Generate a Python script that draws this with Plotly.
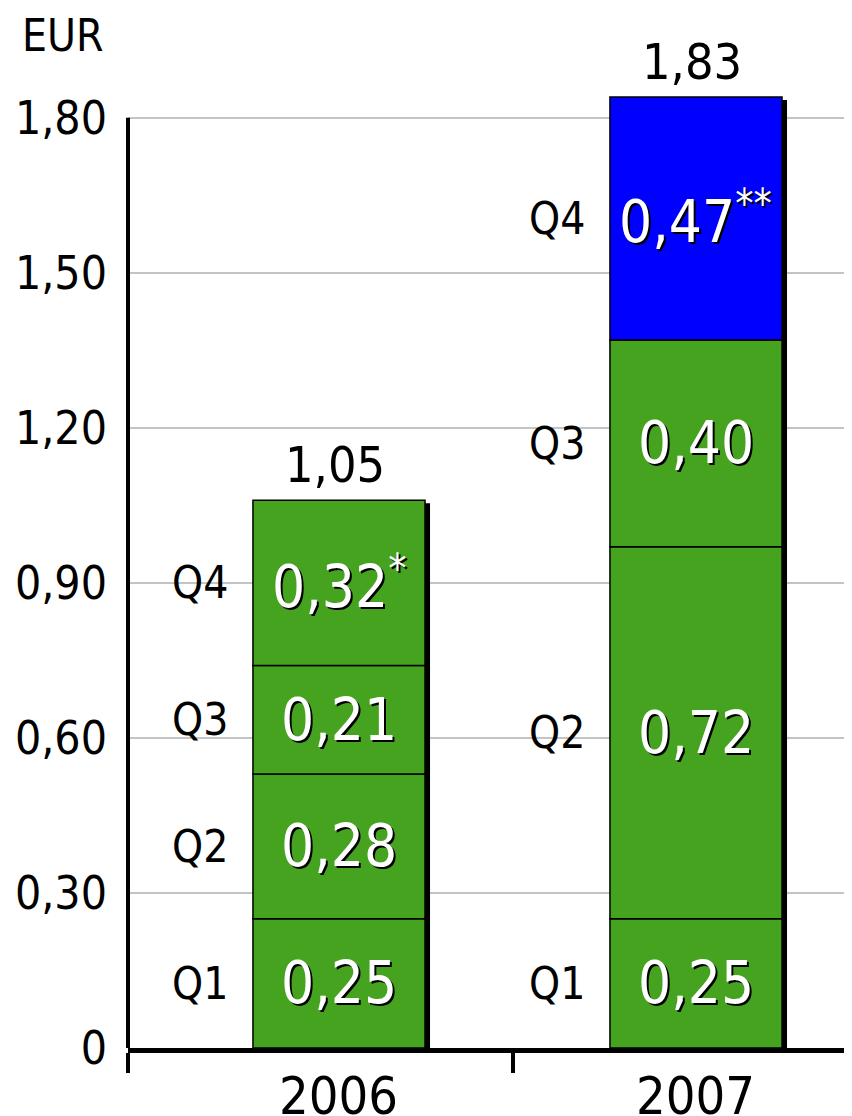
"""
분기별 주당 배당/이익(EUR) 누적 막대 차트
"""

import plotly.graph_objects as go

# 데이터
years = ['2006', '2007']
quarters = ['Q1', 'Q2', 'Q3', 'Q4']
values_2006 = [0.25, 0.28, 0.21, 0.32]
values_2007 = [0.25, 0.72, 0.40, 0.47]
value_labels_2006 = ['0,25', '0,28', '0,21', '0,32<sup>*</sup>']
value_labels_2007 = ['0,25', '0,72', '0,40', '0,47<sup>**</sup>']
total_labels = ['1,05', '1,83']
y_tickvals = [0, 0.30, 0.60, 0.90, 1.20, 1.50, 1.80]
y_ticktext = ['0', '0,30', '0,60', '0,90', '1,20', '1,50', '1,80']

FONT = "DejaVu Sans Condensed, DejaVu Sans, sans-serif"


def create_eps_chart() -> go.Figure:
    values = [values_2006, values_2007]
    labels = [value_labels_2006, value_labels_2007]
    green = '#45a31f'
    blue = '#0000ff'
    bar_width = 0.482
    px_x = 1 / 357      # x축 1px
    px_y = 1 / 516.67   # y축 1px

    fig = go.Figure()

    # 막대 그림자
    totals = [sum(v) for v in values]
    fig.add_trace(go.Bar(
        x=[i + 5 * px_x for i in range(len(years))],
        y=[t - 3 * px_y for t in totals],
        base=[0, 0],
        width=bar_width,
        marker=dict(color='black', line=dict(width=0)),
        hoverinfo='skip',
        showlegend=False
    ))

    # 분기별 누적 막대
    bases = [0.0 for _ in years]
    annotations = []
    for j, q in enumerate(quarters):
        seg = [values[i][j] for i in range(len(years))]
        colors = [green, blue if j == 3 else green]
        fig.add_trace(go.Bar(
            x=list(range(len(years))),
            y=seg,
            base=list(bases),
            width=bar_width,
            name=q,
            marker=dict(color=colors, line=dict(color='black', width=1.5)),
            showlegend=False
        ))
        for i in range(len(years)):
            mid = bases[i] + seg[i] / 2
            # 값 라벨 (흰색 + 그림자)
            annotations.append(dict(
                x=i, y=mid, text=labels[i][j], showarrow=False,
                font=dict(family=FONT, size=58, color='white',
                          shadow='2px 2px 0px black'),
                xanchor='center', yanchor='middle'
            ))
            # 분기 라벨
            annotations.append(dict(
                x=i - 0.39, y=mid, text=q, showarrow=False,
                font=dict(family=FONT, size=44, color='black'),
                xanchor='center', yanchor='middle'
            ))
        bases = [bases[i] + seg[i] for i in range(len(years))]

    # 합계 라벨 및 연도 라벨
    for i, year in enumerate(years):
        annotations.append(dict(
            x=i - 0.01, y=totals[i], text=total_labels[i], showarrow=False,
            font=dict(family=FONT, size=50, color='black'),
            xanchor='center', yanchor='bottom', yshift=4
        ))
        annotations.append(dict(
            x=i, y=0, text=year, showarrow=False,
            font=dict(family=FONT, size=52, color='black'),
            xanchor='center', yanchor='top', yshift=-16
        ))

    # 단위 라벨 (plot 영역 기준 paper 좌표)
    annotations.append(dict(
        x=(20 - 128) / 724, y=1 + (66 - 35) / 982,
        xref='paper', yref='paper',
        text='EUR', showarrow=False,
        font=dict(family=FONT, size=44, color='black'),
        xanchor='left', yanchor='middle'
    ))

    # y축 선 (0 ~ 1.80)
    fig.add_shape(type='line', xref='paper', yref='y',
                  x0=0, x1=0, y0=-0.045, y1=1.80,
                  line=dict(color='black', width=4))

    # body 기본 여백(8px)을 감안한 크기
    fig.update_layout(
        barmode='overlay',
        width=844,
        height=1108,
        margin=dict(l=120, r=0, t=58, b=68),
        plot_bgcolor='white',
        paper_bgcolor='white',
        annotations=annotations,
        xaxis=dict(
            range=[-0.591, 1.437],
            tickvals=[-0.591, 0.487, 1.437],
            showticklabels=False,
            ticks='outside', ticklen=20, tickwidth=4, tickcolor='black',
            showline=True, linecolor='black', linewidth=5,
            showgrid=False, zeroline=False, fixedrange=True
        ),
        yaxis=dict(
            range=[0, 1.90],
            tickvals=y_tickvals,
            ticktext=y_ticktext,
            tickfont=dict(family=FONT, size=46, color='black'),
            ticks='', ticklabelstandoff=20,
            showline=False,
            showgrid=True, gridcolor='#c4c4c4', gridwidth=2,
            zeroline=False, fixedrange=True
        ),
        font=dict(family=FONT)
    )

    return fig


if __name__ == "__main__":
    fig = create_eps_chart()
    fig.write_html("out.html")
